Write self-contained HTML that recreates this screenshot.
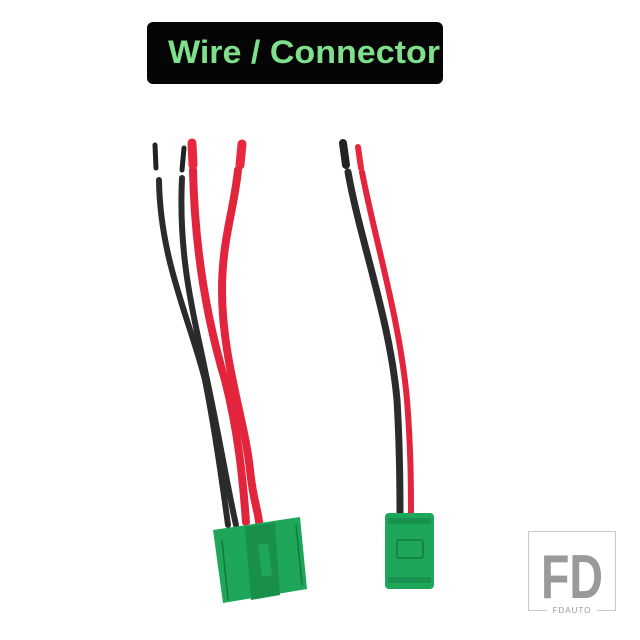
<!DOCTYPE html>
<html><head><meta charset="utf-8"><style>
html,body{margin:0;padding:0;background:#fff;width:640px;height:640px;overflow:hidden}
</style></head><body>
<svg width="640" height="640" viewBox="0 0 640 640" xmlns="http://www.w3.org/2000/svg">
<rect width="640" height="640" fill="#fff"/>
<rect x="147" y="22" width="296" height="62" rx="6" fill="#050505"/>
<text x="304" y="63" text-anchor="middle" font-family="Liberation Sans, sans-serif" font-weight="bold" font-size="32" fill="#7fe08c" textLength="272" lengthAdjust="spacingAndGlyphs">Wire / Connector</text>
<g fill="none" stroke-linecap="round">
<path d="M159,180 C160,260 190,320 205,380 C215,430 222,480 228,525" stroke="#2b2b2b" stroke-width="6"/>
<path d="M182,178 C178,260 195,320 205,370 C220,440 228,490 236,525" stroke="#2b2b2b" stroke-width="6"/>
<path d="M155,145 L156,168" stroke="#222" stroke-width="5"/>
<path d="M184,148 L182,170" stroke="#222" stroke-width="5"/>
<path d="M193,170 C195,260 210,330 225,380 C238,430 243,480 246,522" stroke="#e2253c" stroke-width="8"/>
<path d="M238,170 C234,210 222,240 222,290 C222,360 245,420 250,470 C253,500 258,510 259,522" stroke="#e2253c" stroke-width="8"/>
<path d="M192,143 L193,165" stroke="#e8283e" stroke-width="9"/>
<path d="M242,144 L240,165" stroke="#e8283e" stroke-width="9"/>
<path d="M348,172 C360,240 390,320 397,400 C400,450 400,490 400,515" stroke="#2b2b2b" stroke-width="7"/>
<path d="M343,143 L346,165" stroke="#222" stroke-width="8"/>
<path d="M362,172 C375,240 400,320 407,400 C411,450 411,490 411,515" stroke="#e2253c" stroke-width="6"/>
<path d="M358,147 L361,168" stroke="#e8283e" stroke-width="6"/>
</g>
<polygon points="213,530 300,517 307,589 223,603" fill="#1ea65a"/>
<polygon points="245,527 275,523 280,595 251,600" fill="#188f4b"/>
<polygon points="258,545 268,543 272,575 262,577" fill="#1ea65a"/>
<line x1="222" y1="540" x2="228" y2="600" stroke="#137a3e" stroke-width="1.5"/>
<line x1="296" y1="525" x2="302" y2="585" stroke="#137a3e" stroke-width="1.5"/>
<rect x="385" y="513" width="49" height="76" rx="4" fill="#1ea65a"/>
<rect x="388" y="518" width="43" height="6" fill="#18924e"/>
<rect x="388" y="577" width="43" height="6" fill="#18924e"/>
<rect x="397" y="540" width="26" height="18" rx="2" fill="none" stroke="#137a3e" stroke-width="1.5"/>
<rect x="528.5" y="531.5" width="87" height="79" fill="none" stroke="#c8c8c8"/>
<text x="572" y="598" text-anchor="middle" font-family="Liberation Sans, sans-serif" font-weight="bold" font-size="62" fill="#9a9a9a" textLength="62" lengthAdjust="spacingAndGlyphs">FD</text>
<rect x="547" y="604" width="50" height="10" fill="#fff"/>
<text x="572" y="613" text-anchor="middle" font-family="Liberation Sans, sans-serif" font-size="8" fill="#999" letter-spacing="1">FDAUTO</text>
</svg>
</body></html>
